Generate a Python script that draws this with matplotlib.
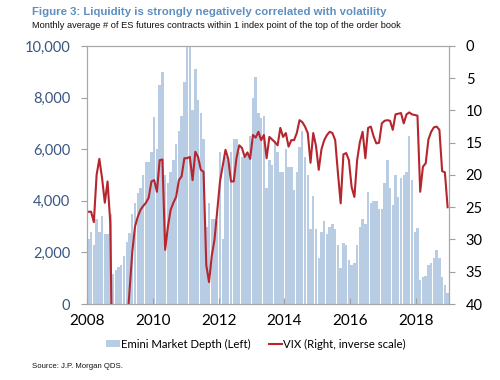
import numpy as np
import pandas as pd
import matplotlib
matplotlib.use('Agg')
import matplotlib.pyplot as plt
from matplotlib.patches import Patch
from matplotlib.lines import Line2D
from matplotlib.ticker import FuncFormatter

# monthly data, Jan 2008 - Dec 2018
months = pd.date_range('2008-01-01', '2018-12-01', freq='MS')

depth = [
    2500, 2800, 2300, 3300, 2800, 3400, 2700, 2700, 3500, 1150, 1300, 1450,   # 2008
    1500, 1850, 2400, 2750, 3500, 3900, 4300, 4500, 5000, 5500, 5500, 5900,   # 2009
    7250, 6000, 8500, 9000, 5000, 4700, 5100, 5600, 6200, 6700, 7300, 8600,   # 2010
    10000, 10000, 7500, 9100, 7900, 7400, 6400, 3000, 3900, 3300, 3300, 3200,  # 2011
    5900, 2500, 5700, 5600, 5900, 6400, 6400, 5900, 5700, 5700, 5800, 6500,   # 2012
    8000, 8800, 7400, 7200, 7300, 4500, 5600, 5400, 6300, 5900, 5100, 5100,   # 2013
    6000, 5300, 5300, 4400, 5100, 6100, 6700, 5700, 5000, 2900, 4200, 2900,   # 2014
    1800, 2800, 3200, 2700, 3000, 3100, 2900, 2300, 1400, 2350, 2300, 1700,   # 2015
    1500, 1600, 2300, 3000, 3300, 3100, 4350, 3900, 4000, 4000, 3700, 3700,   # 2016
    4700, 5600, 4500, 3850, 5000, 4150, 4900, 5000, 5100, 6500, 4800, 2800,   # 2017
    2950, 930, 1050, 1100, 1500, 1600, 1800, 2100, 1800, 1050, 740, 430,      # 2018
]

vix = [
    25.7, 25.7, 27.3, 20.0, 17.5, 20.5, 24.3, 21.0, 27.5, 60.0, 60.0, 55.0,
    45.0, 46.0, 44.0, 38.0, 32.0, 28.0, 26.5, 25.4, 24.8, 24.3, 23.5, 21.0,
    20.8, 22.6, 17.7, 17.6, 31.6, 28.0, 25.4, 24.3, 23.4, 20.8, 20.2, 17.4,
    17.4, 17.2, 20.8, 16.4, 17.2, 19.2, 19.5, 34.0, 36.6, 32.5, 30.0, 25.5,
    21.0, 18.5, 16.1, 17.5, 21.0, 21.0, 17.4, 15.4, 15.8, 17.2, 16.5, 17.5,
    13.8, 14.2, 13.3, 14.6, 13.8, 17.4, 14.1, 14.5, 14.9, 15.4, 12.7, 14.1,
    13.5, 15.6, 14.6, 14.6, 13.5, 11.5, 11.8, 12.5, 13.5, 18.1, 13.5, 15.5,
    19.2, 16.0, 14.6, 13.8, 13.3, 13.5, 14.6, 19.7, 24.4, 16.8, 16.6, 17.7,
    21.9, 23.4, 17.7, 14.9, 13.3, 17.4, 12.7, 12.5, 14.0, 15.1, 15.0, 12.0,
    11.6, 11.5, 11.6, 13.0, 10.6, 10.5, 10.4, 12.0, 10.6, 10.3, 10.6, 10.7,
    10.8, 22.6, 18.7, 18.2, 14.5, 13.3, 12.6, 12.5, 13.0, 19.4, 19.6, 25.0,
]

year_ticks = [2008, 2010, 2012, 2014, 2016, 2018]

x = months.year + (months.month - 0.5) / 12

bar_color = '#b8cce4'
line_color = '#b5262f'
left_color = '#3a5680'

fig = plt.figure(figsize=(5, 3.8), dpi=100)
ax = fig.add_axes([0.174, 0.2, 0.724, 0.679])
ax2 = ax.twinx()

ax.bar(x, depth, width=1 / 12 * 0.88, color=bar_color, linewidth=0)
ax2.plot(x, vix, color=line_color, lw=1.5, solid_joinstyle='round')

ax.set_xlim(2008, 2019)
ax.set_ylim(0, 10000)
ax2.set_ylim(40, 0)

ax.set_xticks(year_ticks)
ax.set_yticks(range(0, 10001, 2000))
ax.yaxis.set_major_formatter(FuncFormatter(lambda v, p: f'{int(v):,}'))
ax2.set_yticks(range(0, 41, 5))

tick_font = 'Lato'
ax.tick_params(axis='x', direction='in', length=4, pad=7, labelsize=11,
               color='#a0a0a0')
ax.tick_params(axis='y', direction='out', length=4, pad=8, labelsize=10.5,
               labelcolor=left_color, color='#a0a0a0')
ax2.tick_params(axis='y', direction='out', length=4, pad=8, labelsize=10.5,
                color='#a0a0a0')
for lab in ax.get_xticklabels() + ax.get_yticklabels() + ax2.get_yticklabels():
    lab.set_family(tick_font)

for a in (ax, ax2):
    for s in a.spines.values():
        s.set_color('#a8a8a8')
        s.set_linewidth(0.8)

narrow = ['Liberation Sans Narrow', 'Liberation Sans']
fig.text(0.064, 1 - 12 / 380, 'Figure 3: Liquidity is strongly negatively correlated with volatility',
         family=narrow, weight='bold', fontsize=8.2, color='#5f8fc0', va='center')
fig.text(0.064, 1 - 26 / 380, 'Monthly average # of ES futures contracts within 1 index point of the top of the order book',
         family=narrow, fontsize=6.7, color='#111111', va='center')
fig.text(0.064, 1 - 367 / 380, 'Source: J.P. Morgan QDS.',
         family=narrow, fontsize=5.6, color='#111111', va='center')

handles = [Patch(facecolor=bar_color, edgecolor='none'),
           Line2D([0], [0], color=line_color, lw=1.5)]
fig.legend(handles, ['Emini Market Depth (Left)', 'VIX (Right, inverse scale)'],
           loc='center', bbox_to_anchor=(0.512, 1 - 344 / 380), ncol=2, frameon=False,
           prop={'family': tick_font, 'size': 8.2}, handlelength=1.2, handleheight=0.6,
           handletextpad=0.1, columnspacing=1.6)

fig.savefig('out.png', dpi=100)
